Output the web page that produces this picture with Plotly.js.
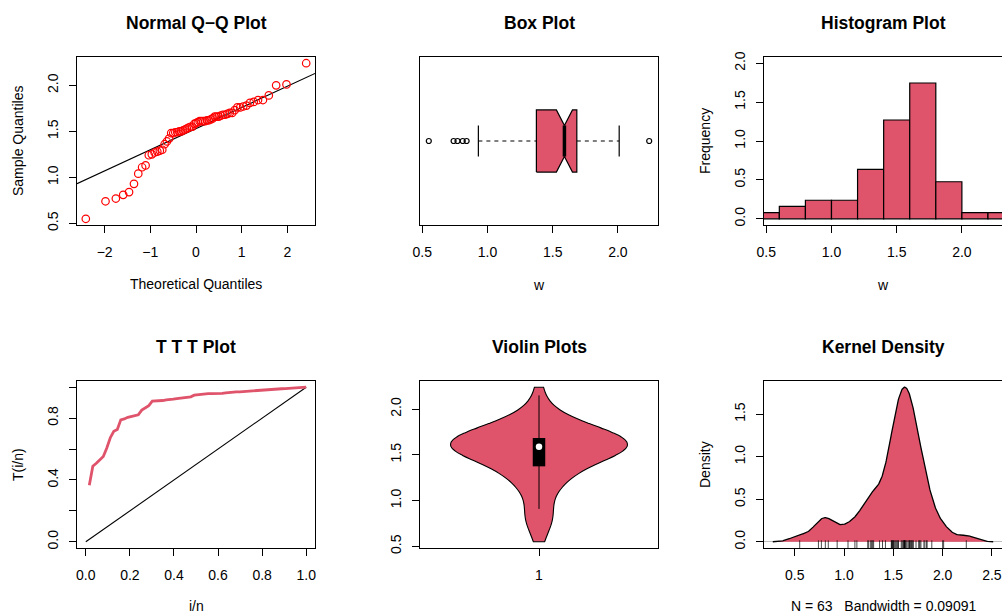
<!DOCTYPE html>
<html><head><meta charset="utf-8">
<script src="https://cdn.plot.ly/plotly-3.0.1.min.js"></script>
<style>html,body{margin:0;padding:0;background:#fff}#chart{width:1002px;height:615px}</style>
</head><body><div id="chart"></div>
<script>
// ---- data (63 observations of w) ----
const w = [0.55, 0.74, 0.77, 0.81, 0.84, 0.93, 1.04, 1.11, 1.13, 1.24, 1.25, 1.27, 1.28, 1.29, 1.30,
  1.36, 1.39, 1.42, 1.48, 1.48, 1.49, 1.49, 1.50, 1.50, 1.51, 1.52, 1.53, 1.54, 1.55, 1.55, 1.58,
  1.59, 1.60, 1.61, 1.61, 1.61, 1.61, 1.62, 1.62, 1.63, 1.64, 1.66, 1.66, 1.66, 1.67, 1.68, 1.68,
  1.69, 1.70, 1.70, 1.73, 1.76, 1.76, 1.77, 1.78, 1.81, 1.82, 1.84, 1.84, 1.89, 2.00, 2.01, 2.24];
const panelTitles = ["Normal Q\u2212Q Plot", "Box Plot", "Histogram Plot", "T T T Plot", "Violin Plots", "Kernel Density"];
const xTitles = ["Theoretical Quantiles", "w", "w", "i/n", "", "N = 63   Bandwidth = 0.09091"];
const yTitles = ["Sample Quantiles", "", "Frequency", "T(i/n)", "", "Density"];
const densityBandwidth = 0.09091;
const violinBandwidth = 0.15;
const histBreakStart = 0.4, histBreakEnd = 2.4, histBreakSize = 0.2;
const violinTickText = ["1"];
const tttTickText = ["0.0", "", "0.4", "", "0.8", ""];

const FILL = '#DF536B';
const FONT = '"Liberation Sans", Arial, Helvetica, sans-serif';
const W = 1002, H = 615;

// ---- helpers ----
const sorted = w.slice().sort((a, b) => a - b);
const n = sorted.length;
const sum = sorted.reduce((a, b) => a + b, 0);
function pad(lo, hi) { const d = (hi - lo) * 0.04; return [lo - d, hi + d]; }
function quantile7(arr, p) { const h = (arr.length - 1) * p, lo = Math.floor(h); return arr[lo] + (h - lo) * ((arr[Math.min(lo + 1, arr.length - 1)]) - arr[lo]); }
function qnorm(p) {
  const a = [-3.969683028665376e+01, 2.209460984245205e+02, -2.759285104469687e+02, 1.383577518672690e+02, -3.066479806614716e+01, 2.506628277459239e+00];
  const b = [-5.447609879822406e+01, 1.615858368580409e+02, -1.556989798598866e+02, 6.680131188771972e+01, -1.328068155288572e+01];
  const c = [-7.784894002430293e-03, -3.223964580411365e-01, -2.400758277161838e+00, -2.549732539343734e+00, 4.374664141464968e+00, 2.938163982698783e+00];
  const d = [7.784695709041462e-03, 3.224671290700398e-01, 2.445134137142996e+00, 3.754408661907416e+00];
  const pl = 0.02425; let q, r;
  if (p < pl) { q = Math.sqrt(-2 * Math.log(p)); return (((((c[0]*q+c[1])*q+c[2])*q+c[3])*q+c[4])*q+c[5]) / ((((d[0]*q+d[1])*q+d[2])*q+d[3])*q+1); }
  if (p <= 1 - pl) { q = p - 0.5; r = q*q; return (((((a[0]*r+a[1])*r+a[2])*r+a[3])*r+a[4])*r+a[5])*q / (((((b[0]*r+b[1])*r+b[2])*r+b[3])*r+b[4])*r+1); }
  q = Math.sqrt(-2 * Math.log(1 - p)); return -(((((c[0]*q+c[1])*q+c[2])*q+c[3])*q+c[4])*q+c[5]) / ((((d[0]*q+d[1])*q+d[2])*q+d[3])*q+1);
}
// five-number summary (Tukey hinges)
function fivenum(x) {
  const m = x.length, n4 = Math.floor((m + 3) / 2) / 2;
  const idx = [1, n4, (m + 1) / 2, m + 1 - n4, m];
  return idx.map(i => 0.5 * (x[Math.floor(i) - 1] + x[Math.ceil(i) - 1]));
}

// ---- Q-Q ----
const theo = sorted.map((_, i) => qnorm((i + 1 - 0.5) / n));
const qx = [qnorm(0.25), qnorm(0.75)], qy = [quantile7(sorted, 0.25), quantile7(sorted, 0.75)];
const slope = (qy[1] - qy[0]) / (qx[1] - qx[0]), icpt = qy[0] - slope * qx[0];
const qqXR = pad(theo[0], theo[n - 1]), qqYR = pad(sorted[0], sorted[n - 1]);

// ---- box stats ----
const fn = fivenum(sorted);
const iqr = fn[3] - fn[1];
const loFence = fn[1] - 1.5 * iqr, hiFence = fn[3] + 1.5 * iqr;
const inside = sorted.filter(v => v >= loFence && v <= hiFence);
const whLo = inside[0], whHi = inside[inside.length - 1];
const outl = sorted.filter(v => v < loFence || v > hiFence);
const notch = 1.58 * iqr / Math.sqrt(n);
const bh = 0.2; // half box height
const boxX = [fn[1], fn[2] - notch, fn[2], fn[2] + notch, fn[3], fn[3], fn[2] + notch, fn[2], fn[2] - notch, fn[1], fn[1]];
const boxY = [1 - bh, 1 - bh, 1 - bh / 2, 1 - bh, 1 - bh, 1 + bh, 1 + bh, 1 + bh / 2, 1 + bh, 1 + bh, 1 - bh];
const dataXR = pad(sorted[0], sorted[n - 1]);

// ---- TTT ----
const tttX = [], tttY = [];
let cum = 0;
for (let i = 1; i <= n; i++) { cum += sorted[i - 1]; tttX.push(i / n); tttY.push((cum + (n - i) * sorted[i - 1]) / sum); }

// ---- KDE ----
const kLo = sorted[0] - 3 * densityBandwidth, kHi = sorted[n - 1] + 3 * densityBandwidth;
const kx = [], ky = [];
for (let j = 0; j < 512; j++) {
  const x = kLo + (kHi - kLo) * j / 511; let s = 0;
  for (const v of sorted) { const z = (x - v) / densityBandwidth; s += Math.exp(-0.5 * z * z); }
  kx.push(x); ky.push(s / (n * densityBandwidth * Math.sqrt(2 * Math.PI)));
}
const kMax = Math.max(...ky);
const kdeXR = pad(kLo, kHi), kdeYR = pad(0, kMax);

// ---- violin inner stats ----
const vWhLo = Math.max(sorted[0], fn[1] - 1.5 * iqr), vWhHi = Math.min(sorted[n - 1], fn[3] + 1.5 * iqr);

const traces = [
  // Q-Q
  {type: 'scatter', mode: 'lines', x: qqXR, y: qqXR.map(v => icpt + slope * v), xaxis: 'x', yaxis: 'y', line: {color: '#000', width: 1.1}},
  {type: 'scatter', mode: 'markers', x: theo, y: sorted, xaxis: 'x', yaxis: 'y', marker: {symbol: 'circle-open', size: 7.5, color: '#FF0000', line: {width: 1.2, color: '#FF0000'}}},
  // Box
  {type: 'scatter', mode: 'lines', x: [whLo, fn[1]], y: [1, 1], xaxis: 'x2', yaxis: 'y2', line: {color: '#000', width: 1.1, dash: '4px,4px'}},
  {type: 'scatter', mode: 'lines', x: [fn[3], whHi], y: [1, 1], xaxis: 'x2', yaxis: 'y2', line: {color: '#000', width: 1.1, dash: '4px,4px'}},
  {type: 'scatter', mode: 'lines', x: [whLo, whLo, null, whHi, whHi], y: [1 - bh / 2, 1 + bh / 2, null, 1 - bh / 2, 1 + bh / 2], xaxis: 'x2', yaxis: 'y2', line: {color: '#000', width: 1.2}},
  {type: 'scatter', mode: 'lines', x: boxX, y: boxY, fill: 'toself', fillcolor: FILL, xaxis: 'x2', yaxis: 'y2', line: {color: '#000', width: 1.2}},
  {type: 'scatter', mode: 'lines', x: [fn[2], fn[2]], y: [1 - bh / 2, 1 + bh / 2], xaxis: 'x2', yaxis: 'y2', line: {color: '#000', width: 3.5}},
  {type: 'scatter', mode: 'markers', x: outl, y: outl.map(() => 1), xaxis: 'x2', yaxis: 'y2', marker: {symbol: 'circle-open', size: 5, color: '#000', line: {width: 1.2, color: '#000'}}},
  // Histogram
  {type: 'histogram', x: w, histnorm: 'probability density', autobinx: false,
   xbins: {start: histBreakStart + 1e-6, end: histBreakEnd + 1e-6, size: histBreakSize},
   xaxis: 'x3', yaxis: 'y3', marker: {color: FILL, line: {color: '#000', width: 1.2}}},
  // TTT
  {type: 'scatter', mode: 'lines', x: [0, 1], y: [0, 1], xaxis: 'x4', yaxis: 'y4', line: {color: '#000', width: 1.1}},
  {type: 'scatter', mode: 'lines', x: tttX, y: tttY, xaxis: 'x4', yaxis: 'y4', line: {color: FILL, width: 2.8}},
  // Violin
  {type: 'violin', y: w, x0: 1, xaxis: 'x5', yaxis: 'y5', width: 0.8, bandwidth: violinBandwidth, spanmode: 'hard',
   scalemode: 'width', points: false, fillcolor: FILL, line: {color: '#000', width: 1.1}, box: {visible: false}, meanline: {visible: false}, hoverinfo: 'skip'},
  {type: 'scatter', mode: 'lines', x: [1, 1], y: [vWhLo, vWhHi], xaxis: 'x5', yaxis: 'y5', line: {color: '#000', width: 1}},
  {type: 'scatter', mode: 'lines', x: [1, 1], y: [fn[1], fn[3]], xaxis: 'x5', yaxis: 'y5', line: {color: '#000', width: 12.5}},
  {type: 'scatter', mode: 'markers', x: [1], y: [fn[2]], xaxis: 'x5', yaxis: 'y5', marker: {size: 6.5, color: '#fff'}},
  // KDE
  {type: 'scatter', mode: 'lines', x: kx, y: ky, fill: 'tozeroy', fillcolor: FILL, xaxis: 'x6', yaxis: 'y6', line: {color: '#000', width: 1.3}},
  {type: 'scatter', mode: 'markers', x: sorted, y: sorted.map(() => kdeYR[0]), xaxis: 'x6', yaxis: 'y6', cliponaxis: true,
   marker: {symbol: 'line-ns-open', size: 11, color: '#000', line: {width: 0.7, color: '#000'}}}
];

const px = v => v / W, py = v => 1 - v / H;
const cols = [[px(77), px(315)], [px(420), px(658)], [px(764), 1]];
const rows = [[py(225), py(57)], [py(548), py(381)]];
const tf = {family: FONT, size: 14, color: '#000'};
function ax(extra) {
  return Object.assign({showline: true, linecolor: '#000', linewidth: 1, mirror: true, ticks: 'outside', ticklen: 7, tickwidth: 1,
    tickcolor: '#000', showgrid: false, zeroline: false, tickfont: tf, fixedrange: true, type: 'linear', tickformat: '.1f',
    ticklabelstandoff: 7}, extra);
}
function yax(extra) { return ax(Object.assign({tickangle: -90, ticklabelstandoff: 5}, extra)); }
const layout = {
  width: W, height: H, margin: {l: 0, r: 0, t: 0, b: 0}, paper_bgcolor: '#fff', plot_bgcolor: '#fff', showlegend: false, bargap: 0,
  xaxis: ax({domain: cols[0], anchor: 'y', range: qqXR, dtick: 1, tickformat: 'd'}),
  yaxis: yax({domain: rows[0], anchor: 'x', range: qqYR, dtick: 0.5}),
  xaxis2: ax({domain: cols[1], anchor: 'y2', range: dataXR, dtick: 0.5}),
  yaxis2: ax({domain: rows[0], anchor: 'x2', range: [0.46, 1.54], ticks: '', showticklabels: false}),
  xaxis3: ax({domain: cols[2], anchor: 'y3', range: dataXR, dtick: 0.5}),
  yaxis3: yax({domain: rows[0], anchor: 'x3', range: pad(0, 2), dtick: 0.5, mirror: false}),
  xaxis4: ax({domain: cols[0], anchor: 'y4', range: pad(0, 1), dtick: 0.2}),
  yaxis4: yax({domain: rows[1], anchor: 'x4', range: pad(0, 1), tickmode: 'array', tickvals: [0, 0.2, 0.4, 0.6, 0.8, 1.0], ticktext: tttTickText}),
  xaxis5: ax({domain: cols[1], anchor: 'y5', range: pad(0.5, 1.5), tickmode: 'array', tickvals: [1], ticktext: violinTickText}),
  yaxis5: yax({domain: rows[1], anchor: 'x5', range: dataXR, dtick: 0.5}),
  xaxis6: ax({domain: cols[2], anchor: 'y6', range: kdeXR, dtick: 0.5}),
  yaxis6: yax({domain: rows[1], anchor: 'x6', range: kdeYR, dtick: 0.5, mirror: false, zeroline: true, zerolinecolor: '#bebebe', zerolinewidth: 1}),
  annotations: []
};
const titlePos = [[196, 23], [539, 23], [883, 23], [196, 347], [539, 347], [883, 347]];
const xtPos = [[196, 284], [539, 285], [883, 285], [196, 606], [539, 606], [883, 606]];
const ytPos = [[18, 141], [0, 0], [705, 141], [18, 465], [0, 0], [705, 465]];
panelTitles.forEach((t, i) => layout.annotations.push({text: t, xref: 'paper', yref: 'paper', x: px(titlePos[i][0]), y: py(titlePos[i][1]),
  xanchor: 'center', yanchor: 'middle', showarrow: false, font: {family: FONT, size: 17.5, color: '#000', weight: 'bold'}}));
xTitles.forEach((t, i) => { if (t) layout.annotations.push({text: t, xref: 'paper', yref: 'paper', x: px(xtPos[i][0]), y: py(xtPos[i][1]),
  xanchor: 'center', yanchor: 'middle', showarrow: false, font: tf}); });
yTitles.forEach((t, i) => { if (t) layout.annotations.push({text: t, xref: 'paper', yref: 'paper', x: px(ytPos[i][0]), y: py(ytPos[i][1]),
  xanchor: 'center', yanchor: 'middle', textangle: -90, showarrow: false, font: tf}); });

Plotly.newPlot('chart', traces, layout, {staticPlot: true});
</script></body></html>
